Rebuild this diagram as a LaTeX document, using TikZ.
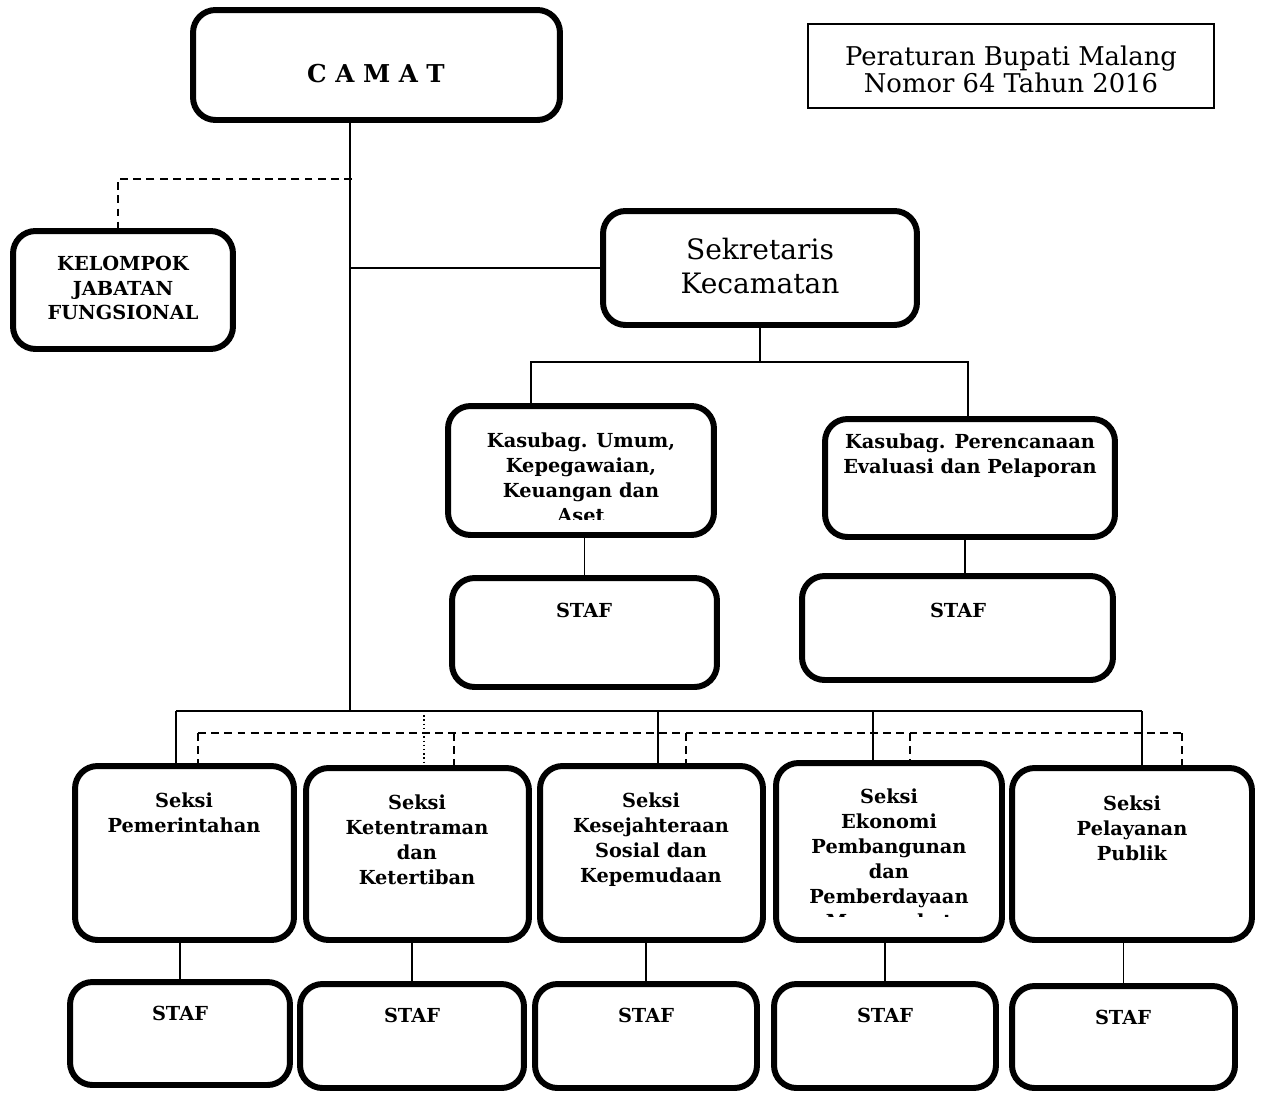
\documentclass[tikz,border=0pt]{standalone}
\usepackage{fontspec}
\setmainfont{DejaVu Serif}
\begin{document}
\begin{tikzpicture}[x=0.02cm,y=-0.02cm,
    box/.style={draw,line width=3.4pt,rounded corners=0.45cm,inner sep=0pt},
    lbl/.style={align=center,inner sep=0pt,font=\bfseries\fontsize{11}{14.2}\selectfont},
    conn/.style={line width=0.8pt},
    dashconn/.style={line width=0.8pt,dash pattern=on 4.5pt off 3pt},
    dotconn/.style={line width=0.8pt,dash pattern=on 0.8pt off 1.6pt}]
  \useasboundingbox (0,0) rectangle (1261,1093);

  % boxes
  \node[box,minimum width=7.34cm,minimum height=2.2cm] (camat) at (376.5,65) {};
  \node[draw,line width=0.8pt,minimum width=8.12cm,minimum height=1.68cm] (perbup) at (1011,66) {};
  \node[box,minimum width=4.4cm,minimum height=2.36cm] (kjf) at (123,290) {};
  \node[box,minimum width=6.28cm,minimum height=2.28cm] (sekcam) at (760,268) {};
  \node[box,minimum width=5.32cm,minimum height=2.58cm] (kumum) at (581,470.5) {};
  \node[box,minimum width=5.8cm,minimum height=2.36cm] (kperenc) at (970,478) {};
  \node[box,minimum width=5.3cm,minimum height=2.18cm] (staf1) at (584.5,632.5) {};
  \node[box,minimum width=6.22cm,minimum height=2.08cm] (staf2) at (957.5,628) {};

  \node[box,minimum width=4.38cm,minimum height=3.48cm] (s1) at (184.5,853) {};
  \node[box,minimum width=4.46cm,minimum height=3.44cm] (s2) at (417.5,854) {};
  \node[box,minimum width=4.46cm,minimum height=3.48cm] (s3) at (651.5,853) {};
  \node[box,minimum width=4.52cm,minimum height=3.54cm] (s4) at (889,851.5) {};
  \node[box,minimum width=4.8cm,minimum height=3.44cm] (s5) at (1132,854) {};

  \node[box,minimum width=4.4cm,minimum height=2.06cm] (t1) at (180,1033.5) {};
  \node[box,minimum width=4.48cm,minimum height=2.08cm] (t2) at (412,1036) {};
  \node[box,minimum width=4.44cm,minimum height=2.08cm] (t3) at (646,1036) {};
  \node[box,minimum width=4.44cm,minimum height=2.08cm] (t4) at (885,1036) {};
  \node[box,minimum width=4.46cm,minimum height=2.04cm] (t5) at (1123.5,1037) {};

  % texts
  \node[lbl,font=\bfseries\fontsize{14}{17}\selectfont] (camatt) at (376,74) {C A M A T};
  \node[align=center,inner sep=0pt,font=\fontsize{14.7}{15.3}\selectfont] (perbupt) at (1011,69)
    {Peraturan Bupati Malang\\Nomor 64 Tahun 2016};
  \node[lbl] (kjft) at (123,288) {KELOMPOK\\JABATAN\\FUNGSIONAL};
  \node[align=center,inner sep=0pt,font=\fontsize{16}{19.8}\selectfont] (sekcamt) at (760,266)
    {Sekretaris\\Kecamatan};
  \begin{scope}
    \clip (448,400) rectangle (714,519);
    \node[lbl] (kumumt) at (581,477.5) {Kasubag. Umum,\\Kepegawaian,\\Keuangan dan\\Aset};
  \end{scope}
  \node[lbl] (kperenct) at (970,456) {Kasubag. Perencanaan\\Evaluasi dan Pelaporan};
  \node[lbl] (staf1t) at (584,610) {STAF};
  \node[lbl] (staf2t) at (958,610) {STAF};

  \node[lbl] (s1t) at (184,812.5) {Seksi\\Pemerintahan};
  \node[lbl] (s2t) at (417,839.5) {Seksi\\Ketentraman\\dan\\Ketertiban};
  \node[lbl] (s3t) at (651,839.5) {Seksi\\Kesejahteraan\\Sosial dan\\Kepemudaan};
  \begin{scope}
    \clip (776,760) rectangle (1002,916);
    \node[lbl] (s4t) at (889,860.5)
      {Seksi\\Ekonomi\\Pembangunan\\dan\\Pemberdayaan\\Masyarakat};
  \end{scope}
  \node[lbl] (s5t) at (1132,828) {Seksi\\Pelayanan\\Publik};
  \node[lbl] (t1t) at (180,1013) {STAF};
  \node[lbl] (t2t) at (412,1015) {STAF};
  \node[lbl] (t3t) at (646,1015) {STAF};
  \node[lbl] (t4t) at (885,1015) {STAF};
  \node[lbl] (t5t) at (1123,1017) {STAF};

  % connectors
  \coordinate (bus) at (350,711);
  \coordinate (kj) at (352,179);
  \coordinate (sc) at (760,362);
  \coordinate (ka) at (531,362);
  \coordinate (kb) at (968,362);
  \draw[conn] (camat.south -| bus) -- (bus);
  \draw[dashconn] (kj) -| (kjf.north -| 118,0);
  \draw[conn] (sekcam.west -| bus) -- (sekcam.west);
  \draw[conn] (sekcam.south) -- (sc);
  \draw[conn] (kumum.north -| ka) -- (ka) -- (kb) -- (kperenc.north -| kb);
  \draw[conn] (kumum.south -| staf1) -- (staf1.north);
  \draw[conn] (kperenc.south -| 965,0) -- (staf2.north -| 965,0);

  \foreach \i/\x in {1/176,2/424,3/658,4/873,5/1142}
    \coordinate (b\i) at (\x,711);
  \foreach \i/\x in {1/198,2/454,3/686,4/910,5/1182}
    \coordinate (d\i) at (\x,733);
  \draw[conn] (b1) -- (b5);
  \foreach \i in {1,3,4,5}
    \draw[conn] (b\i) -- (s\i.north -| b\i);
  \draw[dotconn] (b2) -- (s2.north -| b2);
  \draw[dashconn] (d1) -- (d5);
  \foreach \i in {1,...,5}
    \draw[dashconn] (d\i) -- (s\i.north -| d\i);
  \foreach \i in {1,...,5}
    \draw[conn] (s\i.south -| t\i.north) -- (t\i.north);
\end{tikzpicture}
\end{document}
